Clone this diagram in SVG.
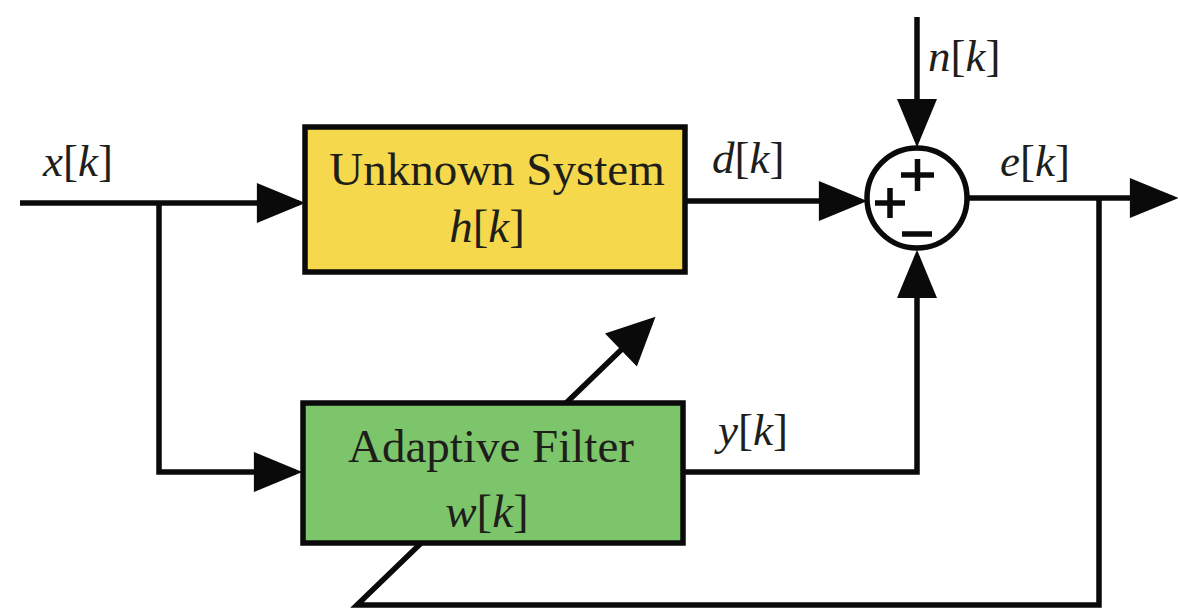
<svg xmlns="http://www.w3.org/2000/svg" width="1178" height="611" viewBox="0 0 1178 611">
<style>
.ln{fill:none;stroke:#0a0a0a;stroke-width:5.5;stroke-linejoin:miter}
.box{stroke:#0a0a0a;stroke-width:5.5}
.t{font-family:"Liberation Serif","Times New Roman",serif;fill:#1e1e1a}
.bt{font-size:47px}
.lb{font-size:45px}
.i{font-style:italic}
.sg{fill:none;stroke:#0a0a0a;stroke-width:5.5}
</style>
<defs>
<marker id="ah" markerUnits="userSpaceOnUse" markerWidth="50" markerHeight="40" viewBox="0 0 46 38" refX="40" refY="19" orient="auto">
<path d="M0,0 L46,19 L0,38 Z" fill="#0a0a0a"/>
</marker>
<marker id="ahb" markerUnits="userSpaceOnUse" markerWidth="50" markerHeight="46" viewBox="0 0 46 44" refX="40" refY="22" orient="auto">
<path d="M0,0 L46,22 L0,44 Z" fill="#0a0a0a"/>
</marker>
</defs>
<rect width="1178" height="611" fill="#ffffff"/>
<g id="connectors">
<line class="ln" x1="20" y1="203" x2="299" y2="203" marker-end="url(#ah)"/>
<polyline class="ln" points="159,203 159,472 296,472" marker-end="url(#ah)"/>
<line class="ln" x1="685" y1="201" x2="861" y2="201" marker-end="url(#ah)"/>
<line class="ln" x1="917" y1="17" x2="917" y2="141" marker-end="url(#ah)"/>
<polyline class="ln" points="683,472 917,472 917,256" marker-end="url(#ah)"/>
<line class="ln" x1="968" y1="198" x2="1172" y2="198" marker-end="url(#ah)"/>
<polyline class="ln" points="1099,198 1099,605 357,605 651,321" marker-end="url(#ahb)"/>
</g>
<g id="unknown-system">
<rect class="box" x="305" y="127" width="380" height="145" fill="#f5d84c"/>
<text class="t bt" x="497" y="185" text-anchor="middle">Unknown System</text>
<text class="t bt" x="487" y="242" text-anchor="middle"><tspan class="i">h</tspan>[<tspan class="i">k</tspan>]</text>
</g>
<g id="adaptive-filter">
<rect class="box" x="303" y="403" width="380" height="140" fill="#7dc56b"/>
<text class="t bt" x="491" y="462" text-anchor="middle">Adaptive Filter</text>
<text class="t bt" x="487" y="527" text-anchor="middle"><tspan class="i">w</tspan>[<tspan class="i">k</tspan>]</text>
</g>
<g id="summer">
<circle class="sg" cx="917" cy="198" r="50" fill="#ffffff"/>
<path class="sg" d="M901,175 H934 M917.5,159 V191 M875,203 H905 M890,188 V218 M902,234 H932"/>
</g>
<g id="labels">
<text class="t lb" x="43" y="176"><tspan class="i">x</tspan>[<tspan class="i">k</tspan>]</text>
<text class="t lb" x="712" y="173"><tspan class="i">d</tspan>[<tspan class="i">k</tspan>]</text>
<text class="t lb" x="928" y="71"><tspan class="i">n</tspan>[<tspan class="i">k</tspan>]</text>
<text class="t lb" x="1000" y="176"><tspan class="i">e</tspan>[<tspan class="i">k</tspan>]</text>
<text class="t lb" x="718" y="445"><tspan class="i">y</tspan>[<tspan class="i">k</tspan>]</text>
</g>
</svg>
